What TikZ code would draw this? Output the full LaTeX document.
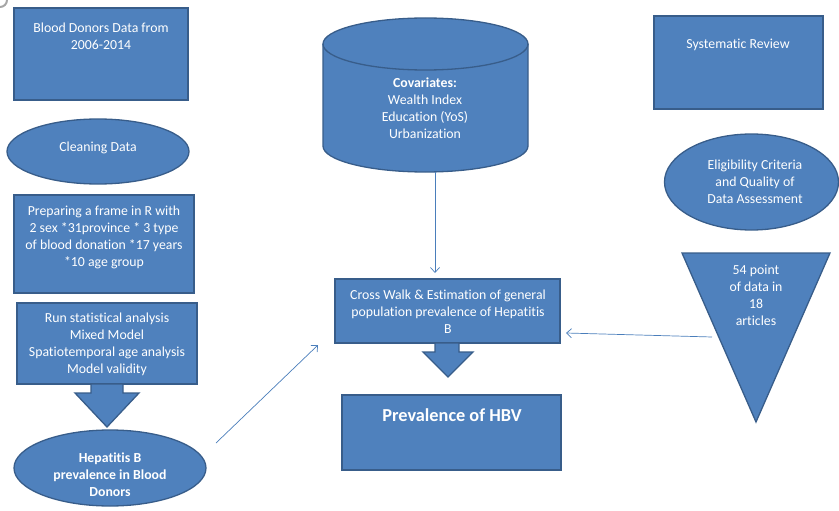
\documentclass[tikz,border=0pt]{standalone}
\usepackage{fontspec}
\setmainfont{Carlito}[Ligatures=NoCommon]
\usetikzlibrary{shapes.geometric,arrows.meta}
\definecolor{boxfill}{HTML}{4F81BD}
\definecolor{boxline}{HTML}{385D8A}
\definecolor{lnk}{HTML}{4A7EBB}
\tikzset{
  shp/.style={fill=boxfill,draw=boxline,line width=1.3pt},
  boxr/.style={shp,rectangle,inner sep=0pt},
  ell/.style={shp,ellipse,inner sep=0pt},
  txt/.style={text=white,align=center,inner sep=0pt,font=\fontsize{13.8}{17}\selectfont},
  btxt/.style={txt,font=\fontsize{13.8}{17}\selectfont\bfseries},
  link/.style={draw=lnk,line width=0.7pt,-{Straight Barb[length=5pt,width=9pt]}},
}
\begin{document}
\begin{tikzpicture}[x=1pt,y=-1pt]
\useasboundingbox (0,0) rectangle (839,511);
% corner artifact
\draw[gray!70,line width=2pt] (0,7) arc[start angle=90,end angle=0,radius=7];
% left column
\node[boxr,minimum width=174pt,minimum height=92pt] (bd) at (101,54) {};
\node[txt] (bdt) at (101,36.5) {Blood Donors Data from\\2006-2014};
\node[ell,minimum width=182pt,minimum height=65pt] (cl) at (98,151.5) {};
\node[txt] (clt) at (98,148) {Cleaning Data};
\node[boxr,minimum width=180pt,minimum height=98pt] (pf) at (104,244) {};
\node[txt] (pft) at (104,237.5) {Preparing a frame in R with\\2 sex *31province * 3 type\\of blood donation *17 years\\*10 age group};
\node[boxr,minimum width=180pt,minimum height=81pt] (rs) at (107,343.5) {};
\node[txt] (rst) at (107,344) {Run statistical analysis\\Mixed Model\\Spatiotemporal age analysis\\Model validity};
\path[shp] (91,384) -- (123,384) -- (123,393) -- (139,393) -- (107,427) -- (75,393) -- (91,393) -- cycle;
\node[ell,minimum width=192pt,minimum height=76pt] (hb) at (110,468) {};
\node[btxt] (hbt) at (110,474.5) {Hepatitis B\\prevalence in Blood\\Donors};
% center column
\path[shp] (323,44) -- (323,146) arc[start angle=180,end angle=0,x radius=102.5,y radius=26] -- (528,44) arc[start angle=360,end angle=180,x radius=102.5,y radius=26] -- cycle;
\draw[shp,fill=none] (323,44) arc[start angle=180,end angle=0,x radius=102.5,y radius=26];
\coordinate (cylb) at (435,172);
\node[txt] (covt) at (425,108.5) {\textbf{Covariates:}\\Wealth Index\\Education (YoS)\\Urbanization};
\node[boxr,minimum width=225pt,minimum height=64pt] (cw) at (447.5,311) {};
\node[txt] (cwt) at (448,312) {Cross Walk \& Estimation of general\\population prevalence of Hepatitis\\B};
\path[shp] (435,343) -- (459,343) -- (459,352) -- (473,352) -- (448,377) -- (423,352) -- (435,352) -- cycle;
\node[boxr,minimum width=219pt,minimum height=75pt] (hbv) at (451.5,432.5) {};
\node[txt,font=\fontsize{18.3}{22}\selectfont\bfseries] (hbvt) at (452,415) {Prevalence of HBV};
% right column
\node[boxr,minimum width=169pt,minimum height=93pt] (sr) at (738.5,62.5) {};
\node[txt] (srt) at (738,45) {Systematic Review};
\node[ell,minimum width=174pt,minimum height=96pt] (el) at (751.5,182) {};
\node[txt] (elt) at (755,181.5) {Eligibility Criteria\\and Quality of\\Data Assessment};
\path[shp] (682,253) -- (830,253) -- (756,422) -- cycle;
\node[txt] (trt) at (756,295.5) {54 point\\of data in\\18\\articles};
% connectors
\coordinate (a1s) at (216,443);
\coordinate (a1e) at (318,345);
\draw[link] (a1s) -- (a1e);
\coordinate (cwt1) at (435,273);
\draw[link] (cylb) -- (cwt1);
\coordinate (tris) at (712,337);
\coordinate (cwr) at (566,333);
\draw[link] (tris) -- (cwr);
\end{tikzpicture}
\end{document}
